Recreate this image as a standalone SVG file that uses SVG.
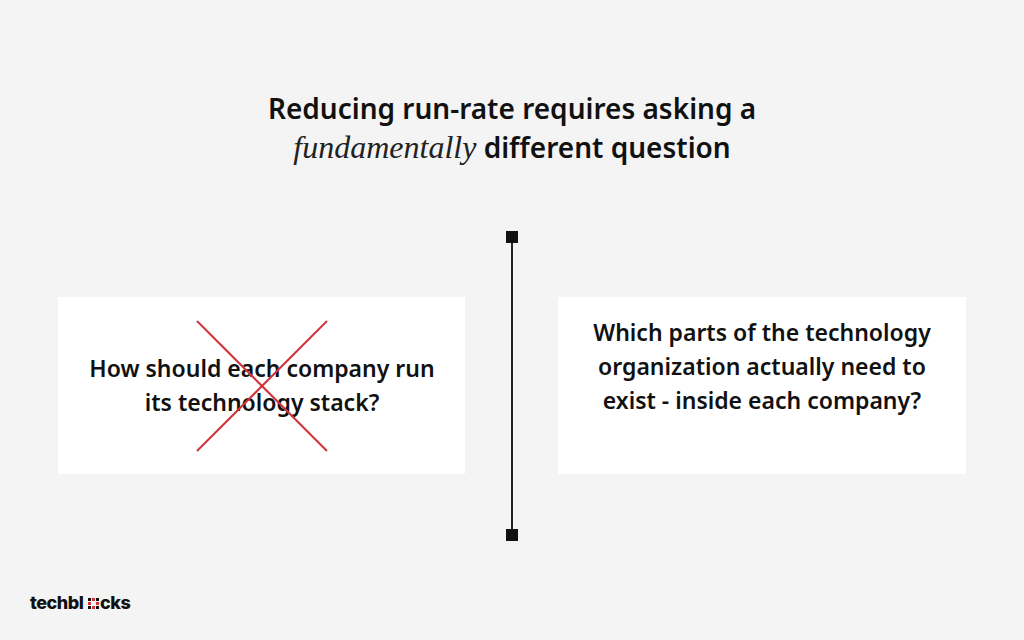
<svg xmlns="http://www.w3.org/2000/svg" width="1024" height="640" viewBox="0 0 1024 640">
<style>
.t{font-family:"Noto Sans","Open Sans",sans-serif;font-weight:600;fill:#111;text-anchor:middle}
.q{font-family:"Noto Sans","Open Sans",sans-serif;font-weight:600;font-size:23px;fill:#111;text-anchor:middle}
.box{fill:#fff}
</style>
<rect width="1024" height="640" fill="#f4f4f4"/>
<g id="title">
<text class="t" x="512" y="119" font-size="28">Reducing run-rate requires asking a</text>
<text x="512" y="158" font-size="28" text-anchor="middle"><tspan font-style="italic" fill="#222" font-family="'Liberation Serif',serif" font-size="32">fundamentally</tspan><tspan font-family="'Noto Sans',sans-serif" font-weight="600" fill="#111"> different question</tspan></text>
</g>
<g id="connectors">
<line x1="512" y1="237" x2="512" y2="535" stroke="#222" stroke-width="2"/>
<rect x="506" y="231" width="12" height="12" fill="#111"/>
<rect x="506" y="529" width="12" height="12" fill="#111"/>
</g>
<g id="left">
<rect class="box" x="58" y="297" width="407" height="177"/>
<text class="q" x="262" y="377">How should each company run</text>
<text class="q" x="262" y="411">its technology stack?</text>
<line x1="197" y1="321" x2="327" y2="451" stroke="#d0343a" stroke-width="2"/>
<line x1="327" y1="321" x2="197" y2="451" stroke="#d0343a" stroke-width="2"/>
</g>
<g id="right">
<rect class="box" x="558" y="297" width="408" height="177"/>
<text class="q" x="762" y="341">Which parts of the technology</text>
<text class="q" x="762" y="375">organization actually need to</text>
<text class="q" x="762" y="409">exist - inside each company?</text>
</g>
<g id="logo">
<text x="30" y="609" font-family="Inter,'Liberation Sans',sans-serif" font-weight="800" font-size="18" fill="#111" letter-spacing="-0.5">techbl</text>
<g fill="#111">
<rect x="88" y="598" width="3" height="3"/><rect x="92" y="598" width="3" height="3" fill="#d0343a"/><rect x="96" y="598" width="3" height="3"/>
<rect x="88" y="602" width="3" height="3" fill="#d0343a"/><rect x="96" y="602" width="3" height="3" fill="#d0343a"/>
<rect x="88" y="606" width="3" height="3"/><rect x="92" y="606" width="3" height="3" fill="#d0343a"/><rect x="96" y="606" width="3" height="3"/>
</g>
<text x="100" y="609" font-family="Inter,'Liberation Sans',sans-serif" font-weight="800" font-size="18" fill="#111" letter-spacing="-0.5">cks</text>
</g>
</svg>
